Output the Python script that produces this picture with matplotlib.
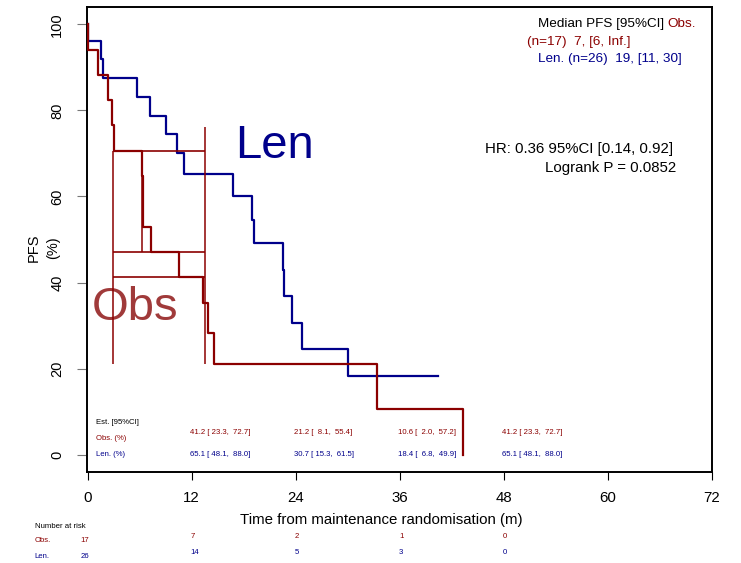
import matplotlib
matplotlib.use("Agg")
import matplotlib.pyplot as plt
import matplotlib.transforms as mtransforms

plt.rcParams['font.family'] = ['Liberation Sans', 'DejaVu Sans']

RED = '#8B0000'
BLUE = '#00008B'
OBS_TXT = '#A03A3A'

# PFS curves (time in months, survival in %), drawn as post-steps
len_t = [0, 0.05, 1.52, 1.75, 5.67, 7.2, 9.1, 10.3, 11.1, 16.8, 19.0, 19.2,
         22.55, 22.65, 23.6, 24.7, 30.05, 40.4]
len_s = [100, 96.2, 91.9, 87.6, 83.2, 78.8, 74.4, 70.0, 65.1, 60.1, 54.6, 49.2,
         43.0, 36.8, 30.7, 24.6, 18.4, 18.4]

obs_t = [0, 0.05, 1.25, 2.4, 2.86, 3.1, 6.3, 6.4, 7.3, 10.5, 13.27, 13.9,
         14.6, 33.4, 43.3]
obs_s = [100, 94.1, 88.2, 82.4, 76.5, 70.6, 64.7, 53.0, 47.1, 41.2, 35.3, 28.3,
         21.2, 10.6, 0]

# extra guide segments on the Obs arm
obs_vt = [2.9, 6.3, 13.5]
obs_vlo = [21.2, 47.1, 21.2]
obs_vhi = [70.6, 70.6, 76.2]
obs_hs = [70.6, 47.1, 41.2]
obs_h0, obs_h1 = 2.9, 13.5

# estimates table
est_times = [12, 24, 36, 48]
obs_est = [41.2, 21.2, 10.6, 41.2]
obs_lo = [23.3, 8.1, 2.0, 23.3]
obs_hi = [72.7, 55.4, 57.2, 72.7]
len_est = [65.1, 30.7, 18.4, 65.1]
len_lo = [48.1, 15.3, 6.8, 48.1]
len_hi = [88.0, 61.5, 49.9, 88.0]

# number at risk
risk_times = [0, 12, 24, 36, 48]
obs_risk = [17, 7, 2, 1, 0]
len_risk = [26, 14, 5, 3, 0]

W, H = 741, 563
fig = plt.figure(figsize=(W / 100, H / 100), dpi=100)
ax = fig.add_axes([86.5 / W, 1 - 472 / H, (712.3 - 86.5) / W, (472 - 7) / H])


def fy(py):
    return 1 - py / H


def fx(px):
    return px / W


ax.step(len_t, len_s, where='post', color=BLUE, lw=1.6, zorder=3)
ax.step(obs_t, obs_s, where='post', color=RED, lw=1.6, zorder=4)
ax.vlines(obs_vt, obs_vlo, obs_vhi, color=RED, lw=1.1, zorder=4)
ax.hlines(obs_hs, obs_h0, obs_h1, color=RED, lw=1.2, zorder=4)

ax.set_xlim(-0.12, 72.03)
ax.set_ylim(-4, 104)
ax.set_xticks(range(0, 73, 12))
ax.set_yticks(range(0, 101, 20))
ax.tick_params(axis='x', length=6, width=0.8, pad=8, labelsize=10.8, color='black')
ax.tick_params(axis='y', length=7, width=0.8, pad=9, labelsize=10.5, color='#777777')
plt.setp(ax.get_yticklabels(), rotation=90, va='center')
for sp in ax.spines.values():
    sp.set_linewidth(1.4)

fig.text(fx(381), fy(520), 'Time from maintenance randomisation (m)',
         ha='center', va='center', fontsize=10.8)
fig.text(fx(34), fy(248), 'PFS', rotation=90, ha='center', va='center', fontsize=10.5)
fig.text(fx(53), fy(248), '(%)', rotation=90, ha='center', va='center', fontsize=10.5)

# arm labels
ax.text(17.0, 68.9, 'Len', color=BLUE, fontsize=34, va='baseline', ha='left')
ax.text(0.48, 31.2, 'Obs', color=OBS_TXT, fontsize=34, va='baseline', ha='left')

# median PFS and HR
fig.text(fx(538), fy(24), 'Median PFS [95%CI]', fontsize=9.7, va='center', ha='left')
fig.text(fx(696), fy(24), 'Obs.', color=RED, fontsize=9.7, va='center', ha='right')
fig.text(fx(527), fy(42), '(n=17)  7, [6, Inf.]', color=RED, fontsize=9.7,
         va='center', ha='left')
fig.text(fx(538), fy(59), 'Len. (n=26)  19, [11, 30]', color=BLUE, fontsize=9.7,
         va='center', ha='left')
fig.text(fx(673), fy(149.5), 'HR: 0.36 95%CI [0.14, 0.92]', fontsize=10.8,
         va='center', ha='right')
fig.text(fx(676), fy(168), 'Logrank P = 0.0852', fontsize=10.8, va='center', ha='right')

# estimates table inside the plot
bt = mtransforms.blended_transform_factory(ax.transData, fig.transFigure)
small = 5.6
ax.text(1.0, fy(423), 'Est. [95%CI]', transform=bt, fontsize=small, va='center')
ax.text(1.0, fy(438), 'Obs. (%)', transform=bt, fontsize=small, va='center', color=RED)
ax.text(1.0, fy(455), 'Len. (%)', transform=bt, fontsize=small, va='center', color=BLUE)
for t, e, lo, hi in zip(est_times, obs_est, obs_lo, obs_hi):
    ax.text(t - 0.2, fy(433), f'{e:.1f} [{lo:5.1f}, {hi:5.1f}]', transform=bt,
            fontsize=small, va='center', color=RED)
for t, e, lo, hi in zip(est_times, len_est, len_lo, len_hi):
    ax.text(t - 0.2, fy(455), f'{e:.1f} [{lo:5.1f}, {hi:5.1f}]', transform=bt,
            fontsize=small, va='center', color=BLUE)

# number at risk
fig.text(fx(34.6), fy(527), 'Number at risk', fontsize=small, va='center')
fig.text(fx(34.6), fy(541), 'Obs.', fontsize=small, va='center', color=RED)
fig.text(fx(34.6), fy(557), 'Len.', fontsize=small, va='center', color=BLUE)
for i, t in enumerate(risk_times):
    x0 = -0.85 if t == 0 else t - 0.1
    ya, yb = (541, 557) if t == 0 else (537, 552)
    ax.text(x0, fy(ya), str(obs_risk[i]), transform=bt, fontsize=small,
            va='center', color=RED, clip_on=False)
    ax.text(x0, fy(yb), str(len_risk[i]), transform=bt, fontsize=small,
            va='center', color=BLUE, clip_on=False)

fig.savefig('out.png', dpi=100)
